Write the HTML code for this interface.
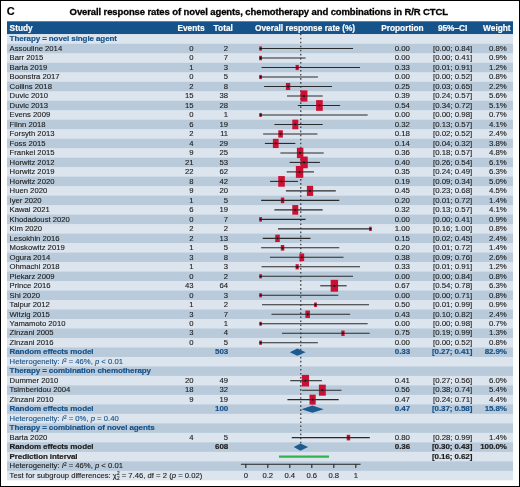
<!DOCTYPE html><html><head><meta charset="utf-8"><style>
*{margin:0;padding:0;box-sizing:border-box}
html,body{width:520px;height:487px;overflow:hidden;background:#fff}
body{position:relative;font-family:"Liberation Sans",sans-serif;color:#1c1c1c}
.frame{position:absolute;left:0;top:0;width:520px;height:487px;border:1px solid #000}
.t{position:absolute;white-space:nowrap;-webkit-text-stroke:0.12px currentColor;font-size:7.70px;line-height:9.49px;height:9.49px}
.r{text-align:right}
.b{font-weight:bold;-webkit-text-stroke:0.18px currentColor}
.t.b{font-size:8.00px;letter-spacing:-0.1px}
.t.n{font-size:7.85px}
.bl{color:#175289}
.w{color:#fff}
.row{position:absolute;left:7px;width:506px}
sup,sub{font-size:0.62em;line-height:0;position:relative;vertical-align:0}
sup{top:-0.45em}
sub{top:0.3em}

</style></head><body>
<div class="frame"></div>
<div style="position:absolute;left:0;top:0;width:520px;height:487px;will-change:transform">
<div class="t b" style="left:6.8px;top:3.9px;font-size:11px;line-height:14px;height:14px;color:#000;transform:none">C</div>
<div class="t b" style="left:69.6px;top:5.6px;font-size:9.5px;letter-spacing:-0.107px;line-height:12px;height:12px;color:#000;-webkit-text-stroke:0.3px #000;transform:none">Overall response rates of novel agents, chemotherapy and combinations in R/R CTCL</div>
<svg style="position:absolute;left:0;top:0" width="520" height="487"><rect x="7" y="21.3" width="506" height="12.9" fill="#15538a"/></svg>
<svg style="position:absolute;left:0;top:0" width="520" height="487"><rect x="7" y="34.300" width="506" height="10.090" fill="#dce5ee"/><rect x="7" y="43.790" width="506" height="10.090" fill="#b9cbdb"/><rect x="7" y="53.280" width="506" height="10.090" fill="#dce5ee"/><rect x="7" y="62.770" width="506" height="10.090" fill="#b9cbdb"/><rect x="7" y="72.260" width="506" height="10.090" fill="#dce5ee"/><rect x="7" y="81.750" width="506" height="10.090" fill="#b9cbdb"/><rect x="7" y="91.240" width="506" height="10.090" fill="#dce5ee"/><rect x="7" y="100.730" width="506" height="10.090" fill="#b9cbdb"/><rect x="7" y="110.220" width="506" height="10.090" fill="#dce5ee"/><rect x="7" y="119.710" width="506" height="10.090" fill="#b9cbdb"/><rect x="7" y="129.200" width="506" height="10.090" fill="#dce5ee"/><rect x="7" y="138.690" width="506" height="10.090" fill="#b9cbdb"/><rect x="7" y="148.180" width="506" height="10.090" fill="#dce5ee"/><rect x="7" y="157.670" width="506" height="10.090" fill="#b9cbdb"/><rect x="7" y="167.160" width="506" height="10.090" fill="#dce5ee"/><rect x="7" y="176.650" width="506" height="10.090" fill="#b9cbdb"/><rect x="7" y="186.140" width="506" height="10.090" fill="#dce5ee"/><rect x="7" y="195.630" width="506" height="10.090" fill="#b9cbdb"/><rect x="7" y="205.120" width="506" height="10.090" fill="#dce5ee"/><rect x="7" y="214.610" width="506" height="10.090" fill="#b9cbdb"/><rect x="7" y="224.100" width="506" height="10.090" fill="#dce5ee"/><rect x="7" y="233.590" width="506" height="10.090" fill="#b9cbdb"/><rect x="7" y="243.080" width="506" height="10.090" fill="#dce5ee"/><rect x="7" y="252.570" width="506" height="10.090" fill="#b9cbdb"/><rect x="7" y="262.060" width="506" height="10.090" fill="#dce5ee"/><rect x="7" y="271.550" width="506" height="10.090" fill="#b9cbdb"/><rect x="7" y="281.040" width="506" height="10.090" fill="#dce5ee"/><rect x="7" y="290.530" width="506" height="10.090" fill="#b9cbdb"/><rect x="7" y="300.020" width="506" height="10.090" fill="#dce5ee"/><rect x="7" y="309.510" width="506" height="10.090" fill="#b9cbdb"/><rect x="7" y="319.000" width="506" height="10.090" fill="#dce5ee"/><rect x="7" y="328.490" width="506" height="10.090" fill="#b9cbdb"/><rect x="7" y="337.980" width="506" height="10.090" fill="#dce5ee"/><rect x="7" y="347.470" width="506" height="10.090" fill="#b9cbdb"/><rect x="7" y="356.960" width="506" height="10.090" fill="#dce5ee"/><rect x="7" y="366.450" width="506" height="10.090" fill="#b9cbdb"/><rect x="7" y="375.940" width="506" height="10.090" fill="#dce5ee"/><rect x="7" y="385.430" width="506" height="10.090" fill="#b9cbdb"/><rect x="7" y="394.920" width="506" height="10.090" fill="#dce5ee"/><rect x="7" y="404.410" width="506" height="10.090" fill="#b9cbdb"/><rect x="7" y="413.900" width="506" height="10.090" fill="#dce5ee"/><rect x="7" y="423.390" width="506" height="10.090" fill="#b9cbdb"/><rect x="7" y="432.880" width="506" height="10.090" fill="#dce5ee"/><rect x="7" y="442.370" width="506" height="10.090" fill="#b9cbdb"/><rect x="7" y="451.860" width="506" height="10.090" fill="#dce5ee"/><rect x="7" y="461.350" width="506" height="10.090" fill="#b9cbdb"/><rect x="7" y="470.840" width="506" height="9.490" fill="#dce5ee"/></svg>
<div class="t b w" style="transform:none;letter-spacing:0;left:9.60px;top:21.70px;font-size:8.30px;line-height:12.70px;height:12.70px">Study</div>
<div class="t r b w" style="transform:none;letter-spacing:0;right:315.40px;top:21.70px;font-size:8.30px;line-height:12.70px;height:12.70px">Events</div>
<div class="t r b w" style="transform:none;letter-spacing:0;right:287.20px;top:21.70px;font-size:8.30px;line-height:12.70px;height:12.70px">Total</div>
<div class="t b w" style="transform:none;letter-spacing:0;left:255.00px;top:21.70px;font-size:8.30px;line-height:12.70px;height:12.70px">Overall response rate (%)</div>
<div class="t r b w" style="transform:none;letter-spacing:0;right:96.40px;top:21.70px;font-size:8.30px;line-height:12.70px;height:12.70px">Proportion</div>
<div class="t r b w" style="transform:none;letter-spacing:0;right:52.60px;top:21.70px;font-size:8.30px;line-height:12.70px;height:12.70px">95%&ndash;CI</div>
<div class="t r b w" style="transform:none;letter-spacing:0;right:9.40px;top:21.70px;font-size:8.30px;line-height:12.70px;height:12.70px">Weight</div>
<div class="t b bl" style="left:9.60px;top:34.30px;">Therapy = novel single agent</div>
<div class="t " style="left:9.60px;top:43.79px;">Assouline 2014</div>
<div class="t r " style="right:326.50px;top:43.79px;">0</div>
<div class="t r " style="right:291.90px;top:43.79px;">2</div>
<div class="t r n" style="right:110.00px;top:43.79px;">0.00</div>
<div class="t r n" style="right:47.80px;top:43.79px;">[0.00; 0.84]</div>
<div class="t r n" style="right:13.20px;top:43.79px;">0.8%</div>
<div class="t " style="left:9.60px;top:53.28px;">Barr 2015</div>
<div class="t r " style="right:326.50px;top:53.28px;">0</div>
<div class="t r " style="right:291.90px;top:53.28px;">7</div>
<div class="t r n" style="right:110.00px;top:53.28px;">0.00</div>
<div class="t r n" style="right:47.80px;top:53.28px;">[0.00; 0.41]</div>
<div class="t r n" style="right:13.20px;top:53.28px;">0.9%</div>
<div class="t " style="left:9.60px;top:62.77px;">Barta 2019</div>
<div class="t r " style="right:326.50px;top:62.77px;">1</div>
<div class="t r " style="right:291.90px;top:62.77px;">3</div>
<div class="t r n" style="right:110.00px;top:62.77px;">0.33</div>
<div class="t r n" style="right:47.80px;top:62.77px;">[0.01; 0.91]</div>
<div class="t r n" style="right:13.20px;top:62.77px;">1.2%</div>
<div class="t " style="left:9.60px;top:72.26px;">Boonstra 2017</div>
<div class="t r " style="right:326.50px;top:72.26px;">0</div>
<div class="t r " style="right:291.90px;top:72.26px;">5</div>
<div class="t r n" style="right:110.00px;top:72.26px;">0.00</div>
<div class="t r n" style="right:47.80px;top:72.26px;">[0.00; 0.52]</div>
<div class="t r n" style="right:13.20px;top:72.26px;">0.8%</div>
<div class="t " style="left:9.60px;top:81.75px;">Collins 2018</div>
<div class="t r " style="right:326.50px;top:81.75px;">2</div>
<div class="t r " style="right:291.90px;top:81.75px;">8</div>
<div class="t r n" style="right:110.00px;top:81.75px;">0.25</div>
<div class="t r n" style="right:47.80px;top:81.75px;">[0.03; 0.65]</div>
<div class="t r n" style="right:13.20px;top:81.75px;">2.2%</div>
<div class="t " style="left:9.60px;top:91.24px;">Duvic 2010</div>
<div class="t r " style="right:326.50px;top:91.24px;">15</div>
<div class="t r " style="right:291.90px;top:91.24px;">38</div>
<div class="t r n" style="right:110.00px;top:91.24px;">0.39</div>
<div class="t r n" style="right:47.80px;top:91.24px;">[0.24; 0.57]</div>
<div class="t r n" style="right:13.20px;top:91.24px;">5.6%</div>
<div class="t " style="left:9.60px;top:100.73px;">Duvic 2013</div>
<div class="t r " style="right:326.50px;top:100.73px;">15</div>
<div class="t r " style="right:291.90px;top:100.73px;">28</div>
<div class="t r n" style="right:110.00px;top:100.73px;">0.54</div>
<div class="t r n" style="right:47.80px;top:100.73px;">[0.34; 0.72]</div>
<div class="t r n" style="right:13.20px;top:100.73px;">5.1%</div>
<div class="t " style="left:9.60px;top:110.22px;">Evens 2009</div>
<div class="t r " style="right:326.50px;top:110.22px;">0</div>
<div class="t r " style="right:291.90px;top:110.22px;">1</div>
<div class="t r n" style="right:110.00px;top:110.22px;">0.00</div>
<div class="t r n" style="right:47.80px;top:110.22px;">[0.00; 0.98]</div>
<div class="t r n" style="right:13.20px;top:110.22px;">0.7%</div>
<div class="t " style="left:9.60px;top:119.71px;">Flinn 2018</div>
<div class="t r " style="right:326.50px;top:119.71px;">6</div>
<div class="t r " style="right:291.90px;top:119.71px;">19</div>
<div class="t r n" style="right:110.00px;top:119.71px;">0.32</div>
<div class="t r n" style="right:47.80px;top:119.71px;">[0.13; 0.57]</div>
<div class="t r n" style="right:13.20px;top:119.71px;">4.1%</div>
<div class="t " style="left:9.60px;top:129.20px;">Forsyth 2013</div>
<div class="t r " style="right:326.50px;top:129.20px;">2</div>
<div class="t r " style="right:291.90px;top:129.20px;">11</div>
<div class="t r n" style="right:110.00px;top:129.20px;">0.18</div>
<div class="t r n" style="right:47.80px;top:129.20px;">[0.02; 0.52]</div>
<div class="t r n" style="right:13.20px;top:129.20px;">2.4%</div>
<div class="t " style="left:9.60px;top:138.69px;">Foss 2015</div>
<div class="t r " style="right:326.50px;top:138.69px;">4</div>
<div class="t r " style="right:291.90px;top:138.69px;">29</div>
<div class="t r n" style="right:110.00px;top:138.69px;">0.14</div>
<div class="t r n" style="right:47.80px;top:138.69px;">[0.04; 0.32]</div>
<div class="t r n" style="right:13.20px;top:138.69px;">3.8%</div>
<div class="t " style="left:9.60px;top:148.18px;">Frankel 2015</div>
<div class="t r " style="right:326.50px;top:148.18px;">9</div>
<div class="t r " style="right:291.90px;top:148.18px;">25</div>
<div class="t r n" style="right:110.00px;top:148.18px;">0.36</div>
<div class="t r n" style="right:47.80px;top:148.18px;">[0.18; 0.57]</div>
<div class="t r n" style="right:13.20px;top:148.18px;">4.8%</div>
<div class="t " style="left:9.60px;top:157.67px;">Horwitz 2012</div>
<div class="t r " style="right:326.50px;top:157.67px;">21</div>
<div class="t r " style="right:291.90px;top:157.67px;">53</div>
<div class="t r n" style="right:110.00px;top:157.67px;">0.40</div>
<div class="t r n" style="right:47.80px;top:157.67px;">[0.26; 0.54]</div>
<div class="t r n" style="right:13.20px;top:157.67px;">6.1%</div>
<div class="t " style="left:9.60px;top:167.16px;">Horwitz 2019</div>
<div class="t r " style="right:326.50px;top:167.16px;">22</div>
<div class="t r " style="right:291.90px;top:167.16px;">62</div>
<div class="t r n" style="right:110.00px;top:167.16px;">0.35</div>
<div class="t r n" style="right:47.80px;top:167.16px;">[0.24; 0.49]</div>
<div class="t r n" style="right:13.20px;top:167.16px;">6.3%</div>
<div class="t " style="left:9.60px;top:176.65px;">Horwitz 2020</div>
<div class="t r " style="right:326.50px;top:176.65px;">8</div>
<div class="t r " style="right:291.90px;top:176.65px;">42</div>
<div class="t r n" style="right:110.00px;top:176.65px;">0.19</div>
<div class="t r n" style="right:47.80px;top:176.65px;">[0.09; 0.34]</div>
<div class="t r n" style="right:13.20px;top:176.65px;">5.0%</div>
<div class="t " style="left:9.60px;top:186.14px;">Huen 2020</div>
<div class="t r " style="right:326.50px;top:186.14px;">9</div>
<div class="t r " style="right:291.90px;top:186.14px;">20</div>
<div class="t r n" style="right:110.00px;top:186.14px;">0.45</div>
<div class="t r n" style="right:47.80px;top:186.14px;">[0.23; 0.68]</div>
<div class="t r n" style="right:13.20px;top:186.14px;">4.5%</div>
<div class="t " style="left:9.60px;top:195.63px;">Iyer 2020</div>
<div class="t r " style="right:326.50px;top:195.63px;">1</div>
<div class="t r " style="right:291.90px;top:195.63px;">5</div>
<div class="t r n" style="right:110.00px;top:195.63px;">0.20</div>
<div class="t r n" style="right:47.80px;top:195.63px;">[0.01; 0.72]</div>
<div class="t r n" style="right:13.20px;top:195.63px;">1.4%</div>
<div class="t " style="left:9.60px;top:205.12px;">Kawai 2021</div>
<div class="t r " style="right:326.50px;top:205.12px;">6</div>
<div class="t r " style="right:291.90px;top:205.12px;">19</div>
<div class="t r n" style="right:110.00px;top:205.12px;">0.32</div>
<div class="t r n" style="right:47.80px;top:205.12px;">[0.13; 0.57]</div>
<div class="t r n" style="right:13.20px;top:205.12px;">4.1%</div>
<div class="t " style="left:9.60px;top:214.61px;">Khodadoust 2020</div>
<div class="t r " style="right:326.50px;top:214.61px;">0</div>
<div class="t r " style="right:291.90px;top:214.61px;">7</div>
<div class="t r n" style="right:110.00px;top:214.61px;">0.00</div>
<div class="t r n" style="right:47.80px;top:214.61px;">[0.00; 0.41]</div>
<div class="t r n" style="right:13.20px;top:214.61px;">0.9%</div>
<div class="t " style="left:9.60px;top:224.10px;">Kim 2020</div>
<div class="t r " style="right:326.50px;top:224.10px;">2</div>
<div class="t r " style="right:291.90px;top:224.10px;">2</div>
<div class="t r n" style="right:110.00px;top:224.10px;">1.00</div>
<div class="t r n" style="right:47.80px;top:224.10px;">[0.16; 1.00]</div>
<div class="t r n" style="right:13.20px;top:224.10px;">0.8%</div>
<div class="t " style="left:9.60px;top:233.59px;">Lesokhin 2016</div>
<div class="t r " style="right:326.50px;top:233.59px;">2</div>
<div class="t r " style="right:291.90px;top:233.59px;">13</div>
<div class="t r n" style="right:110.00px;top:233.59px;">0.15</div>
<div class="t r n" style="right:47.80px;top:233.59px;">[0.02; 0.45]</div>
<div class="t r n" style="right:13.20px;top:233.59px;">2.4%</div>
<div class="t " style="left:9.60px;top:243.08px;">Moskowitz 2019</div>
<div class="t r " style="right:326.50px;top:243.08px;">1</div>
<div class="t r " style="right:291.90px;top:243.08px;">5</div>
<div class="t r n" style="right:110.00px;top:243.08px;">0.20</div>
<div class="t r n" style="right:47.80px;top:243.08px;">[0.01; 0.72]</div>
<div class="t r n" style="right:13.20px;top:243.08px;">1.4%</div>
<div class="t " style="left:9.60px;top:252.57px;">Ogura 2014</div>
<div class="t r " style="right:326.50px;top:252.57px;">3</div>
<div class="t r " style="right:291.90px;top:252.57px;">8</div>
<div class="t r n" style="right:110.00px;top:252.57px;">0.38</div>
<div class="t r n" style="right:47.80px;top:252.57px;">[0.09; 0.76]</div>
<div class="t r n" style="right:13.20px;top:252.57px;">2.6%</div>
<div class="t " style="left:9.60px;top:262.06px;">Ohmachi 2018</div>
<div class="t r " style="right:326.50px;top:262.06px;">1</div>
<div class="t r " style="right:291.90px;top:262.06px;">3</div>
<div class="t r n" style="right:110.00px;top:262.06px;">0.33</div>
<div class="t r n" style="right:47.80px;top:262.06px;">[0.01; 0.91]</div>
<div class="t r n" style="right:13.20px;top:262.06px;">1.2%</div>
<div class="t " style="left:9.60px;top:271.55px;">Piekarz 2009</div>
<div class="t r " style="right:326.50px;top:271.55px;">0</div>
<div class="t r " style="right:291.90px;top:271.55px;">2</div>
<div class="t r n" style="right:110.00px;top:271.55px;">0.00</div>
<div class="t r n" style="right:47.80px;top:271.55px;">[0.00; 0.84]</div>
<div class="t r n" style="right:13.20px;top:271.55px;">0.8%</div>
<div class="t " style="left:9.60px;top:281.04px;">Prince 2016</div>
<div class="t r " style="right:326.50px;top:281.04px;">43</div>
<div class="t r " style="right:291.90px;top:281.04px;">64</div>
<div class="t r n" style="right:110.00px;top:281.04px;">0.67</div>
<div class="t r n" style="right:47.80px;top:281.04px;">[0.54; 0.78]</div>
<div class="t r n" style="right:13.20px;top:281.04px;">6.3%</div>
<div class="t " style="left:9.60px;top:290.53px;">Shi 2020</div>
<div class="t r " style="right:326.50px;top:290.53px;">0</div>
<div class="t r " style="right:291.90px;top:290.53px;">3</div>
<div class="t r n" style="right:110.00px;top:290.53px;">0.00</div>
<div class="t r n" style="right:47.80px;top:290.53px;">[0.00; 0.71]</div>
<div class="t r n" style="right:13.20px;top:290.53px;">0.8%</div>
<div class="t " style="left:9.60px;top:300.02px;">Talpur 2012</div>
<div class="t r " style="right:326.50px;top:300.02px;">1</div>
<div class="t r " style="right:291.90px;top:300.02px;">2</div>
<div class="t r n" style="right:110.00px;top:300.02px;">0.50</div>
<div class="t r n" style="right:47.80px;top:300.02px;">[0.01; 0.99]</div>
<div class="t r n" style="right:13.20px;top:300.02px;">0.9%</div>
<div class="t " style="left:9.60px;top:309.51px;">Witzig 2015</div>
<div class="t r " style="right:326.50px;top:309.51px;">3</div>
<div class="t r " style="right:291.90px;top:309.51px;">7</div>
<div class="t r n" style="right:110.00px;top:309.51px;">0.43</div>
<div class="t r n" style="right:47.80px;top:309.51px;">[0.10; 0.82]</div>
<div class="t r n" style="right:13.20px;top:309.51px;">2.4%</div>
<div class="t " style="left:9.60px;top:319.00px;">Yamamoto 2010</div>
<div class="t r " style="right:326.50px;top:319.00px;">0</div>
<div class="t r " style="right:291.90px;top:319.00px;">1</div>
<div class="t r n" style="right:110.00px;top:319.00px;">0.00</div>
<div class="t r n" style="right:47.80px;top:319.00px;">[0.00; 0.98]</div>
<div class="t r n" style="right:13.20px;top:319.00px;">0.7%</div>
<div class="t " style="left:9.60px;top:328.49px;">Zinzani 2005</div>
<div class="t r " style="right:326.50px;top:328.49px;">3</div>
<div class="t r " style="right:291.90px;top:328.49px;">4</div>
<div class="t r n" style="right:110.00px;top:328.49px;">0.75</div>
<div class="t r n" style="right:47.80px;top:328.49px;">[0.19; 0.99]</div>
<div class="t r n" style="right:13.20px;top:328.49px;">1.3%</div>
<div class="t " style="left:9.60px;top:337.98px;">Zinzani 2016</div>
<div class="t r " style="right:326.50px;top:337.98px;">0</div>
<div class="t r " style="right:291.90px;top:337.98px;">5</div>
<div class="t r n" style="right:110.00px;top:337.98px;">0.00</div>
<div class="t r n" style="right:47.80px;top:337.98px;">[0.00; 0.52]</div>
<div class="t r n" style="right:13.20px;top:337.98px;">0.8%</div>
<div class="t b bl" style="left:9.60px;top:347.47px;">Random effects model</div>
<div class="t r b bl" style="right:291.90px;top:347.47px;">503</div>
<div class="t r b bl" style="right:110.00px;top:347.47px;">0.33</div>
<div class="t r b bl" style="right:47.80px;top:347.47px;">[0.27; 0.41]</div>
<div class="t r b bl" style="right:13.20px;top:347.47px;">82.9%</div>
<div class="t bl" style="left:9.60px;top:356.96px;">Heterogeneity: <i>I</i><sup>2</sup> = 46%, <i>p</i> &lt; 0.01</div>
<div class="t b bl" style="left:9.60px;top:366.45px;">Therapy = combination chemotherapy</div>
<div class="t " style="left:9.60px;top:375.94px;">Dummer 2010</div>
<div class="t r " style="right:326.50px;top:375.94px;">20</div>
<div class="t r " style="right:291.90px;top:375.94px;">49</div>
<div class="t r n" style="right:110.00px;top:375.94px;">0.41</div>
<div class="t r n" style="right:47.80px;top:375.94px;">[0.27; 0.56]</div>
<div class="t r n" style="right:13.20px;top:375.94px;">6.0%</div>
<div class="t " style="left:9.60px;top:385.43px;">Tsimberidou 2004</div>
<div class="t r " style="right:326.50px;top:385.43px;">18</div>
<div class="t r " style="right:291.90px;top:385.43px;">32</div>
<div class="t r n" style="right:110.00px;top:385.43px;">0.56</div>
<div class="t r n" style="right:47.80px;top:385.43px;">[0.38; 0.74]</div>
<div class="t r n" style="right:13.20px;top:385.43px;">5.4%</div>
<div class="t " style="left:9.60px;top:394.92px;">Zinzani 2010</div>
<div class="t r " style="right:326.50px;top:394.92px;">9</div>
<div class="t r " style="right:291.90px;top:394.92px;">19</div>
<div class="t r n" style="right:110.00px;top:394.92px;">0.47</div>
<div class="t r n" style="right:47.80px;top:394.92px;">[0.24; 0.71]</div>
<div class="t r n" style="right:13.20px;top:394.92px;">4.4%</div>
<div class="t b bl" style="left:9.60px;top:404.41px;">Random effects model</div>
<div class="t r b bl" style="right:291.90px;top:404.41px;">100</div>
<div class="t r b bl" style="right:110.00px;top:404.41px;">0.47</div>
<div class="t r b bl" style="right:47.80px;top:404.41px;">[0.37; 0.58]</div>
<div class="t r b bl" style="right:13.20px;top:404.41px;">15.8%</div>
<div class="t bl" style="left:9.60px;top:413.90px;">Heterogeneity: <i>I</i><sup>2</sup> = 0%, <i>p</i> = 0.40</div>
<div class="t b bl" style="left:9.60px;top:423.39px;">Therapy = combination of novel agents</div>
<div class="t " style="left:9.60px;top:432.88px;">Barta 2020</div>
<div class="t r " style="right:326.50px;top:432.88px;">4</div>
<div class="t r " style="right:291.90px;top:432.88px;">5</div>
<div class="t r n" style="right:110.00px;top:432.88px;">0.80</div>
<div class="t r n" style="right:47.80px;top:432.88px;">[0.28; 0.99]</div>
<div class="t r n" style="right:13.20px;top:432.88px;">1.4%</div>
<div class="t b" style="left:9.60px;top:442.37px;">Random effects model</div>
<div class="t r b" style="right:291.90px;top:442.37px;">608</div>
<div class="t r b" style="right:110.00px;top:442.37px;">0.36</div>
<div class="t r b" style="right:47.80px;top:442.37px;">[0.30; 0.43]</div>
<div class="t r b" style="right:13.20px;top:442.37px;">100.0%</div>
<div class="t b" style="left:9.60px;top:451.86px;">Prediction interval</div>
<div class="t r b" style="right:47.80px;top:451.86px;">[0.16; 0.62]</div>
<div class="t " style="left:9.60px;top:461.35px;">Heterogeneity: <i>I</i><sup>2</sup> = 46%, <i>p</i> &lt; 0.01</div>
<div class="t " style="left:9.60px;top:470.84px;">Test for subgroup differences: &chi;<sup style="top:-0.62em">2</sup><sub style="margin-left:-2.65px;top:0.55em">2</sub> = 7.46, df = 2 (<i>p</i> = 0.02)</div>
<svg style="position:absolute;left:0;top:0" width="520" height="487" viewBox="0 0 520 487"><line x1="300.8" y1="33.6" x2="300.8" y2="443.6" stroke="#222" stroke-width="1.05" stroke-dasharray="1.6 2.44"/><line x1="260.60" y1="48.53" x2="353.04" y2="48.53" stroke="#2a2a2a" stroke-width="1.1"/><rect x="259.28" y="46.41" width="2.64" height="4.25" fill="#cc1034"/><line x1="259.28" y1="48.53" x2="261.92" y2="48.53" stroke="#2a2a2a" stroke-width="1.1" opacity="0.8"/><circle cx="260.60" cy="48.53" r="0.9" fill="#111"/><line x1="260.60" y1="58.02" x2="305.58" y2="58.02" stroke="#2a2a2a" stroke-width="1.1"/><rect x="259.20" y="55.77" width="2.80" height="4.51" fill="#cc1034"/><line x1="259.20" y1="58.02" x2="262.00" y2="58.02" stroke="#2a2a2a" stroke-width="1.1" opacity="0.8"/><circle cx="260.60" cy="58.02" r="0.9" fill="#111"/><line x1="261.52" y1="67.52" x2="360.05" y2="67.52" stroke="#2a2a2a" stroke-width="1.1"/><rect x="295.58" y="64.91" width="3.23" height="5.20" fill="#cc1034"/><line x1="295.58" y1="67.52" x2="298.82" y2="67.52" stroke="#2a2a2a" stroke-width="1.1" opacity="0.8"/><circle cx="297.20" cy="67.52" r="0.9" fill="#111"/><line x1="260.60" y1="77.00" x2="317.90" y2="77.00" stroke="#2a2a2a" stroke-width="1.1"/><rect x="259.28" y="74.88" width="2.64" height="4.25" fill="#cc1034"/><line x1="259.28" y1="77.00" x2="261.92" y2="77.00" stroke="#2a2a2a" stroke-width="1.1" opacity="0.8"/><circle cx="260.60" cy="77.00" r="0.9" fill="#111"/><line x1="264.10" y1="86.50" x2="332.06" y2="86.50" stroke="#2a2a2a" stroke-width="1.1"/><rect x="285.86" y="82.97" width="4.38" height="7.05" fill="#cc1034"/><line x1="285.86" y1="86.50" x2="290.24" y2="86.50" stroke="#2a2a2a" stroke-width="1.1" opacity="0.8"/><circle cx="288.05" cy="86.50" r="0.9" fill="#111"/><line x1="286.99" y1="95.98" x2="322.76" y2="95.98" stroke="#2a2a2a" stroke-width="1.1"/><rect x="300.45" y="90.36" width="6.98" height="11.24" fill="#cc1034"/><line x1="300.45" y1="95.98" x2="307.43" y2="95.98" stroke="#2a2a2a" stroke-width="1.1" opacity="0.8"/><circle cx="303.94" cy="95.98" r="0.9" fill="#111"/><line x1="297.79" y1="105.47" x2="340.19" y2="105.47" stroke="#2a2a2a" stroke-width="1.1"/><rect x="316.09" y="100.11" width="6.66" height="10.73" fill="#cc1034"/><line x1="316.09" y1="105.47" x2="322.75" y2="105.47" stroke="#2a2a2a" stroke-width="1.1" opacity="0.8"/><circle cx="319.42" cy="105.47" r="0.9" fill="#111"/><line x1="260.60" y1="114.97" x2="367.66" y2="114.97" stroke="#2a2a2a" stroke-width="1.1"/><rect x="259.37" y="112.98" width="2.47" height="3.97" fill="#cc1034"/><line x1="259.37" y1="114.97" x2="261.83" y2="114.97" stroke="#2a2a2a" stroke-width="1.1" opacity="0.8"/><circle cx="260.60" cy="114.97" r="0.9" fill="#111"/><line x1="274.41" y1="124.45" x2="322.69" y2="124.45" stroke="#2a2a2a" stroke-width="1.1"/><rect x="292.29" y="119.65" width="5.97" height="9.62" fill="#cc1034"/><line x1="292.29" y1="124.45" x2="298.26" y2="124.45" stroke="#2a2a2a" stroke-width="1.1" opacity="0.8"/><circle cx="295.27" cy="124.45" r="0.9" fill="#111"/><line x1="263.11" y1="133.94" x2="317.45" y2="133.94" stroke="#2a2a2a" stroke-width="1.1"/><rect x="278.28" y="130.27" width="4.57" height="7.36" fill="#cc1034"/><line x1="278.28" y1="133.94" x2="282.85" y2="133.94" stroke="#2a2a2a" stroke-width="1.1" opacity="0.8"/><circle cx="280.56" cy="133.94" r="0.9" fill="#111"/><line x1="264.87" y1="143.44" x2="295.37" y2="143.44" stroke="#2a2a2a" stroke-width="1.1"/><rect x="272.87" y="138.81" width="5.75" height="9.26" fill="#cc1034"/><line x1="272.87" y1="143.44" x2="278.62" y2="143.44" stroke="#2a2a2a" stroke-width="1.1" opacity="0.8"/><circle cx="275.74" cy="143.44" r="0.9" fill="#111"/><line x1="280.33" y1="152.93" x2="323.71" y2="152.93" stroke="#2a2a2a" stroke-width="1.1"/><rect x="296.90" y="147.72" width="6.46" height="10.41" fill="#cc1034"/><line x1="296.90" y1="152.93" x2="303.36" y2="152.93" stroke="#2a2a2a" stroke-width="1.1" opacity="0.8"/><circle cx="300.13" cy="152.93" r="0.9" fill="#111"/><line x1="289.64" y1="162.42" x2="319.89" y2="162.42" stroke="#2a2a2a" stroke-width="1.1"/><rect x="300.46" y="156.55" width="7.29" height="11.73" fill="#cc1034"/><line x1="300.46" y1="162.42" x2="307.75" y2="162.42" stroke="#2a2a2a" stroke-width="1.1" opacity="0.8"/><circle cx="304.11" cy="162.42" r="0.9" fill="#111"/><line x1="286.67" y1="171.90" x2="314.03" y2="171.90" stroke="#2a2a2a" stroke-width="1.1"/><rect x="295.86" y="165.94" width="7.40" height="11.92" fill="#cc1034"/><line x1="295.86" y1="171.90" x2="303.26" y2="171.90" stroke="#2a2a2a" stroke-width="1.1" opacity="0.8"/><circle cx="299.56" cy="171.90" r="0.9" fill="#111"/><line x1="270.04" y1="181.39" x2="298.06" y2="181.39" stroke="#2a2a2a" stroke-width="1.1"/><rect x="278.22" y="176.08" width="6.60" height="10.62" fill="#cc1034"/><line x1="278.22" y1="181.39" x2="284.81" y2="181.39" stroke="#2a2a2a" stroke-width="1.1" opacity="0.8"/><circle cx="281.51" cy="181.39" r="0.9" fill="#111"/><line x1="285.92" y1="190.88" x2="335.78" y2="190.88" stroke="#2a2a2a" stroke-width="1.1"/><rect x="306.88" y="185.85" width="6.26" height="10.08" fill="#cc1034"/><line x1="306.88" y1="190.88" x2="313.14" y2="190.88" stroke="#2a2a2a" stroke-width="1.1" opacity="0.8"/><circle cx="310.01" cy="190.88" r="0.9" fill="#111"/><line x1="261.15" y1="200.38" x2="339.26" y2="200.38" stroke="#2a2a2a" stroke-width="1.1"/><rect x="280.81" y="197.56" width="3.49" height="5.62" fill="#cc1034"/><line x1="280.81" y1="200.38" x2="284.31" y2="200.38" stroke="#2a2a2a" stroke-width="1.1" opacity="0.8"/><circle cx="282.56" cy="200.38" r="0.9" fill="#111"/><line x1="274.41" y1="209.87" x2="322.69" y2="209.87" stroke="#2a2a2a" stroke-width="1.1"/><rect x="292.29" y="205.06" width="5.97" height="9.62" fill="#cc1034"/><line x1="292.29" y1="209.87" x2="298.26" y2="209.87" stroke="#2a2a2a" stroke-width="1.1" opacity="0.8"/><circle cx="295.27" cy="209.87" r="0.9" fill="#111"/><line x1="260.60" y1="219.36" x2="305.58" y2="219.36" stroke="#2a2a2a" stroke-width="1.1"/><rect x="259.20" y="217.10" width="2.80" height="4.51" fill="#cc1034"/><line x1="259.20" y1="219.36" x2="262.00" y2="219.36" stroke="#2a2a2a" stroke-width="1.1" opacity="0.8"/><circle cx="260.60" cy="219.36" r="0.9" fill="#111"/><line x1="277.96" y1="228.85" x2="370.40" y2="228.85" stroke="#2a2a2a" stroke-width="1.1"/><rect x="369.08" y="226.72" width="2.64" height="4.25" fill="#cc1034"/><line x1="369.08" y1="228.85" x2="371.72" y2="228.85" stroke="#2a2a2a" stroke-width="1.1" opacity="0.8"/><circle cx="370.40" cy="228.85" r="0.9" fill="#111"/><line x1="262.71" y1="238.33" x2="310.50" y2="238.33" stroke="#2a2a2a" stroke-width="1.1"/><rect x="275.21" y="234.66" width="4.57" height="7.36" fill="#cc1034"/><line x1="275.21" y1="238.33" x2="279.78" y2="238.33" stroke="#2a2a2a" stroke-width="1.1" opacity="0.8"/><circle cx="277.49" cy="238.33" r="0.9" fill="#111"/><line x1="261.15" y1="247.82" x2="339.26" y2="247.82" stroke="#2a2a2a" stroke-width="1.1"/><rect x="280.81" y="245.01" width="3.49" height="5.62" fill="#cc1034"/><line x1="280.81" y1="247.82" x2="284.31" y2="247.82" stroke="#2a2a2a" stroke-width="1.1" opacity="0.8"/><circle cx="282.56" cy="247.82" r="0.9" fill="#111"/><line x1="269.96" y1="257.31" x2="343.51" y2="257.31" stroke="#2a2a2a" stroke-width="1.1"/><rect x="299.40" y="253.49" width="4.76" height="7.66" fill="#cc1034"/><line x1="299.40" y1="257.31" x2="304.15" y2="257.31" stroke="#2a2a2a" stroke-width="1.1" opacity="0.8"/><circle cx="301.78" cy="257.31" r="0.9" fill="#111"/><line x1="261.52" y1="266.81" x2="360.05" y2="266.81" stroke="#2a2a2a" stroke-width="1.1"/><rect x="295.58" y="264.20" width="3.23" height="5.20" fill="#cc1034"/><line x1="295.58" y1="266.81" x2="298.82" y2="266.81" stroke="#2a2a2a" stroke-width="1.1" opacity="0.8"/><circle cx="297.20" cy="266.81" r="0.9" fill="#111"/><line x1="260.60" y1="276.30" x2="353.04" y2="276.30" stroke="#2a2a2a" stroke-width="1.1"/><rect x="259.28" y="274.17" width="2.64" height="4.25" fill="#cc1034"/><line x1="259.28" y1="276.30" x2="261.92" y2="276.30" stroke="#2a2a2a" stroke-width="1.1" opacity="0.8"/><circle cx="260.60" cy="276.30" r="0.9" fill="#111"/><line x1="320.23" y1="285.79" x2="346.70" y2="285.79" stroke="#2a2a2a" stroke-width="1.1"/><rect x="330.67" y="279.82" width="7.40" height="11.92" fill="#cc1034"/><line x1="330.67" y1="285.79" x2="338.07" y2="285.79" stroke="#2a2a2a" stroke-width="1.1" opacity="0.8"/><circle cx="334.37" cy="285.79" r="0.9" fill="#111"/><line x1="260.60" y1="295.28" x2="338.29" y2="295.28" stroke="#2a2a2a" stroke-width="1.1"/><rect x="259.28" y="293.15" width="2.64" height="4.25" fill="#cc1034"/><line x1="259.28" y1="295.28" x2="261.92" y2="295.28" stroke="#2a2a2a" stroke-width="1.1" opacity="0.8"/><circle cx="260.60" cy="295.28" r="0.9" fill="#111"/><line x1="261.98" y1="304.77" x2="369.02" y2="304.77" stroke="#2a2a2a" stroke-width="1.1"/><rect x="314.10" y="302.51" width="2.80" height="4.51" fill="#cc1034"/><line x1="314.10" y1="304.77" x2="316.90" y2="304.77" stroke="#2a2a2a" stroke-width="1.1" opacity="0.8"/><circle cx="315.50" cy="304.77" r="0.9" fill="#111"/><line x1="271.47" y1="314.25" x2="350.19" y2="314.25" stroke="#2a2a2a" stroke-width="1.1"/><rect x="305.37" y="310.58" width="4.57" height="7.36" fill="#cc1034"/><line x1="305.37" y1="314.25" x2="309.94" y2="314.25" stroke="#2a2a2a" stroke-width="1.1" opacity="0.8"/><circle cx="307.66" cy="314.25" r="0.9" fill="#111"/><line x1="260.60" y1="323.75" x2="367.66" y2="323.75" stroke="#2a2a2a" stroke-width="1.1"/><rect x="259.37" y="321.76" width="2.47" height="3.97" fill="#cc1034"/><line x1="259.37" y1="323.75" x2="261.83" y2="323.75" stroke="#2a2a2a" stroke-width="1.1" opacity="0.8"/><circle cx="260.60" cy="323.75" r="0.9" fill="#111"/><line x1="281.91" y1="333.24" x2="369.71" y2="333.24" stroke="#2a2a2a" stroke-width="1.1"/><rect x="341.27" y="330.53" width="3.36" height="5.42" fill="#cc1034"/><line x1="341.27" y1="333.24" x2="344.63" y2="333.24" stroke="#2a2a2a" stroke-width="1.1" opacity="0.8"/><circle cx="342.95" cy="333.24" r="0.9" fill="#111"/><line x1="260.60" y1="342.73" x2="317.90" y2="342.73" stroke="#2a2a2a" stroke-width="1.1"/><rect x="259.28" y="340.60" width="2.64" height="4.25" fill="#cc1034"/><line x1="259.28" y1="342.73" x2="261.92" y2="342.73" stroke="#2a2a2a" stroke-width="1.1" opacity="0.8"/><circle cx="260.60" cy="342.73" r="0.9" fill="#111"/><polygon points="289.85,352.22 297.33,348.62 305.62,352.22 297.33,355.82" fill="#1c5a8f"/><line x1="290.24" y1="380.69" x2="321.85" y2="380.69" stroke="#2a2a2a" stroke-width="1.1"/><rect x="301.80" y="374.87" width="7.23" height="11.64" fill="#cc1034"/><line x1="301.80" y1="380.69" x2="309.03" y2="380.69" stroke="#2a2a2a" stroke-width="1.1" opacity="0.8"/><circle cx="305.42" cy="380.69" r="0.9" fill="#111"/><line x1="301.95" y1="390.18" x2="341.45" y2="390.18" stroke="#2a2a2a" stroke-width="1.1"/><rect x="318.93" y="384.66" width="6.86" height="11.04" fill="#cc1034"/><line x1="318.93" y1="390.18" x2="325.79" y2="390.18" stroke="#2a2a2a" stroke-width="1.1" opacity="0.8"/><circle cx="322.36" cy="390.18" r="0.9" fill="#111"/><line x1="287.44" y1="399.67" x2="338.71" y2="399.67" stroke="#2a2a2a" stroke-width="1.1"/><rect x="309.52" y="394.68" width="6.19" height="9.96" fill="#cc1034"/><line x1="309.52" y1="399.67" x2="315.70" y2="399.67" stroke="#2a2a2a" stroke-width="1.1" opacity="0.8"/><circle cx="312.61" cy="399.67" r="0.9" fill="#111"/><polygon points="301.48,409.16 312.39,405.56 323.68,409.16 312.39,412.76" fill="#1c5a8f"/><line x1="291.74" y1="437.62" x2="369.85" y2="437.62" stroke="#2a2a2a" stroke-width="1.1"/><rect x="346.69" y="434.81" width="3.49" height="5.62" fill="#cc1034"/><line x1="346.69" y1="437.62" x2="350.19" y2="437.62" stroke="#2a2a2a" stroke-width="1.1" opacity="0.8"/><circle cx="348.44" cy="437.62" r="0.9" fill="#111"/><polygon points="293.74,447.12 300.44,443.51 308.10,447.12 300.44,450.72" fill="#1c5a8f"/><line x1="278.99" y1="456.61" x2="328.98" y2="456.61" stroke="#2fb34a" stroke-width="2.1"/><line x1="240.9" y1="464.30" x2="360.6" y2="464.30" stroke="#222" stroke-width="1.1"/><line x1="245.80" y1="464.30" x2="245.80" y2="467.90" stroke="#222" stroke-width="1.1"/><line x1="267.80" y1="464.30" x2="267.80" y2="467.90" stroke="#222" stroke-width="1.1"/><line x1="289.80" y1="464.30" x2="289.80" y2="467.90" stroke="#222" stroke-width="1.1"/><line x1="311.80" y1="464.30" x2="311.80" y2="467.90" stroke="#222" stroke-width="1.1"/><line x1="333.80" y1="464.30" x2="333.80" y2="467.90" stroke="#222" stroke-width="1.1"/><line x1="355.80" y1="464.30" x2="355.80" y2="467.90" stroke="#222" stroke-width="1.1"/></svg>
<div class="t" style="left:245.80px;top:470.84px;width:30px;margin-left:-15px;text-align:center;color:#222;transform:none">0</div>
<div class="t" style="left:267.80px;top:470.84px;width:30px;margin-left:-15px;text-align:center;color:#222;transform:none">0.2</div>
<div class="t" style="left:289.80px;top:470.84px;width:30px;margin-left:-15px;text-align:center;color:#222;transform:none">0.4</div>
<div class="t" style="left:311.80px;top:470.84px;width:30px;margin-left:-15px;text-align:center;color:#222;transform:none">0.6</div>
<div class="t" style="left:333.80px;top:470.84px;width:30px;margin-left:-15px;text-align:center;color:#222;transform:none">0.8</div>
<div class="t" style="left:355.80px;top:470.84px;width:30px;margin-left:-15px;text-align:center;color:#222;transform:none">1</div>
</div></body></html>
